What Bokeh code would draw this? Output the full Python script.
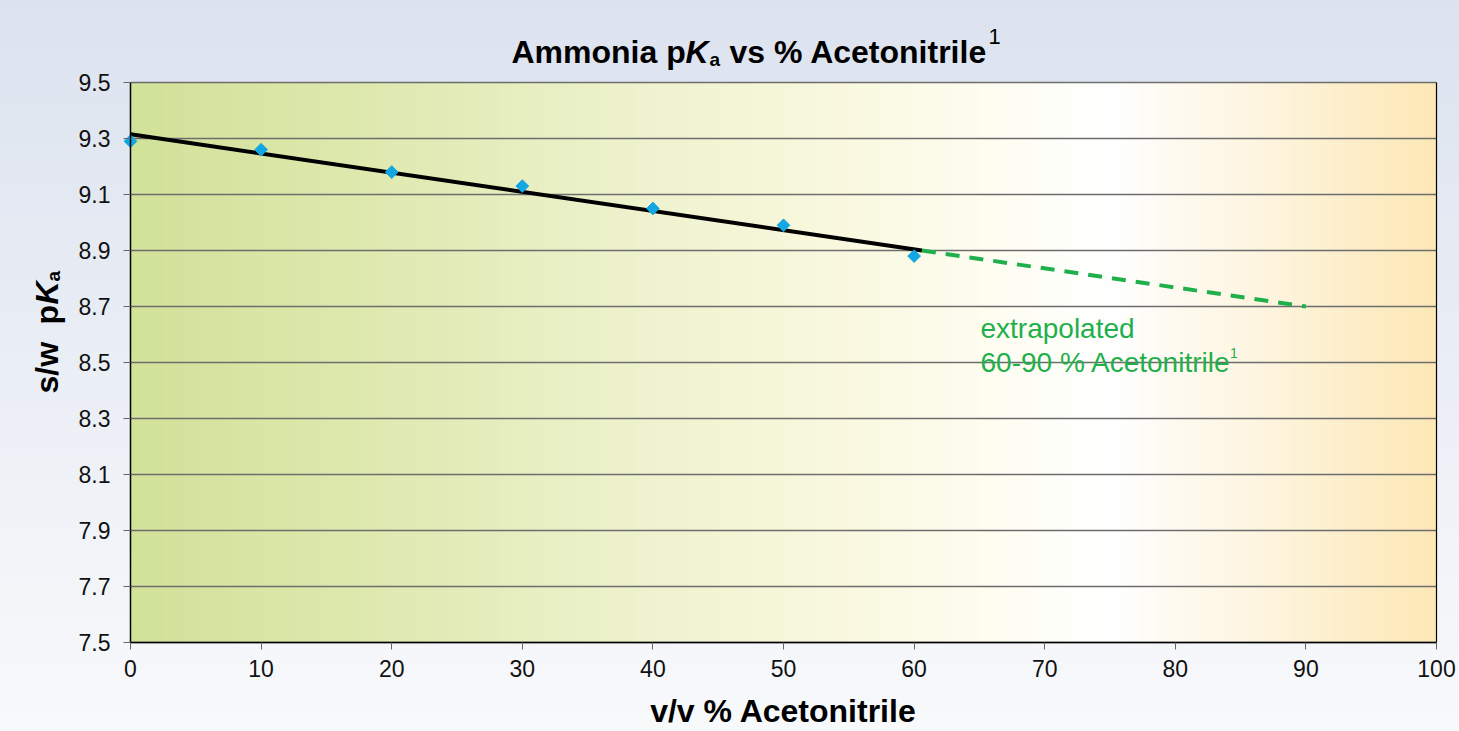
import numpy as np
from bokeh.plotting import figure
from bokeh.models import Label, FixedTicker, Range1d, GlobalInlineStyleSheet
from bokeh.embed import file_html
from bokeh.resources import INLINE

# ---- data ----
acetonitrile_pct = [0, 10, 20, 30, 40, 50, 60]
pka_values = [9.29, 9.26, 9.18, 9.13, 9.05, 8.99, 8.88]
fit_x = [0, 60.6]
fit_y = [9.315, 8.90]
extrap_x = [60.6, 90]
extrap_y = [8.90, 8.70]
x_ticks = [0, 10, 20, 30, 40, 50, 60, 70, 80, 90, 100]
y_ticks = [7.5, 7.7, 7.9, 8.1, 8.3, 8.5, 8.7, 8.9, 9.1, 9.3, 9.5]

FONT = "Liberation Sans"
GREEN = "#1fb04c"

# ---- layout: plot area occupies pixels x 130..1436, y 82..642 of a 1459x731 canvas ----
W, H = 1459, 731
L, R, T, B = 130, 1436, 82, 642
X0, X1 = x_ticks[0], x_ticks[-1]
Y0, Y1 = y_ticks[0], y_ticks[-1]
sx = (R - L) / (X1 - X0)
sy = (B - T) / (Y1 - Y0)

p = figure(width=W, height=H, output_backend="svg", toolbar_location=None,
           x_range=Range1d(X0 - L / sx, X1 + (W - R) / sx),
           y_range=Range1d(Y0 - (H - B) / sy, Y1 + T / sy),
           min_border=0)
p.title.visible = False
p.border_fill_alpha = 0
p.background_fill_alpha = 0
p.outline_line_color = None
p.stylesheets = [GlobalInlineStyleSheet(css="html{min-height:100%;background:linear-gradient(to bottom,#dce3ef,#f8f9fb) fixed;} body{background:transparent;overflow:hidden;}")]

# plot-area horizontal gradient (styling)
stops = [0.0, 0.2, 0.4, 0.55, 0.65, 0.75, 0.88, 1.0]
cols = ["#d1e299", "#e0eab2", "#eff3cf", "#faf9e0", "#fefdf0", "#ffffff", "#fef4dc", "#fde8b6"]
rgb = np.array([[int(c[i:i + 2], 16) for i in (1, 3, 5)] for c in cols], dtype=float)
N = R - L
t = np.linspace(0, 1, N)
img = np.zeros((1, N), dtype=np.uint32)
view = img.view(dtype=np.uint8).reshape((1, N, 4))
for k in range(3):
    view[0, :, k] = np.interp(t, stops, rgb[:, k]).astype(np.uint8)
view[0, :, 3] = 255
p.image_rgba(image=[img], x=X0, y=Y0, dw=X1 - X0, dh=Y1 - Y0, level="image")

# horizontal grid lines and right border of the plot area
p.segment(x0=X0, y0=y_ticks, x1=X1, y1=y_ticks, line_color="#6e6e6e", line_width=1.6)
p.segment(x0=X1, y0=Y0, x1=X1, y1=Y1, line_color="black", line_width=1.2)

# lines and points
p.line(fit_x, fit_y, line_color="black", line_width=4)
p.line(extrap_x, extrap_y, line_color=GREEN, line_width=4, line_dash="14 10")
p.scatter(acetonitrile_pct, pka_values, marker="square", angle=np.pi / 4, size=9,
          fill_color="#12a6e2", line_color="#12a6e2")

# axes (fixed at the plot-area edges)
p.xaxis.ticker = FixedTicker(ticks=x_ticks)
p.yaxis.ticker = FixedTicker(ticks=y_ticks)
p.xaxis.fixed_location = Y0
p.yaxis.fixed_location = X0
p.xaxis.bounds = (X0, X1)
p.yaxis.bounds = (Y0, Y1)
p.xgrid.visible = False
p.ygrid.visible = False

for ax in (p.xaxis, p.yaxis):
    ax.axis_line_color = "black"
    ax.axis_line_width = 1.5
    ax.major_tick_out = 7
    ax.major_tick_in = 0
    ax.major_tick_line_color = "#666666"
    ax.minor_tick_line_color = None
    ax.major_label_text_font = FONT
    ax.major_label_text_font_size = "23px"
    ax.major_label_text_color = "#111111"

p.xaxis.major_label_standoff = 10
p.yaxis.major_label_standoff = 13
p.xaxis.axis_label = "v/v % Acetonitrile"
p.xaxis.axis_label_text_font = FONT
p.xaxis.axis_label_text_font_size = "32px"
p.xaxis.axis_label_text_font_style = "bold"
p.xaxis.axis_label_text_color = "black"
p.xaxis.axis_label_standoff = 13


def dx(px):
    return X0 + (px - L) / sx


def dy(py):
    return Y1 - (py - T) / sy


def lab(text, px, py, size, style="normal", color="black", angle=0.0):
    p.add_layout(Label(x=dx(px), y=dy(py), text=text, text_font=FONT,
                       text_font_size=f"{size}px", text_font_style=style,
                       text_color=color, angle=angle, text_align="left",
                       text_baseline="alphabetic"))


# title
lab("Ammonia p", 511, 51, 32, "bold")
lab("K", 685, 51, 32, "bold italic")
lab("a", 709, 59, 19, "bold")
lab("vs % Acetonitrile", 729, 51, 32, "bold")
lab("1", 988, 36, 22, "normal")

# y axis label (rotated)
A = np.pi / 2
lab("s/w", 46, 393, 32, "bold", angle=A)
lab("p", 46, 324, 32, "bold", angle=A)
lab("K", 46, 304, 32, "bold italic", angle=A)
lab("a", 53, 281, 19, "bold", angle=A)

# annotation
FS = 28
lab("extrapolated", 980, 328, FS, "normal", GREEN)
lab("60-90 % Acetonitrile", 980, 362, FS, "normal", GREEN)
lab("1", 980 + 8.8 * FS + 3, 352, 14, "normal", GREEN)

open("out.html", "w").write(file_html(p, INLINE))
